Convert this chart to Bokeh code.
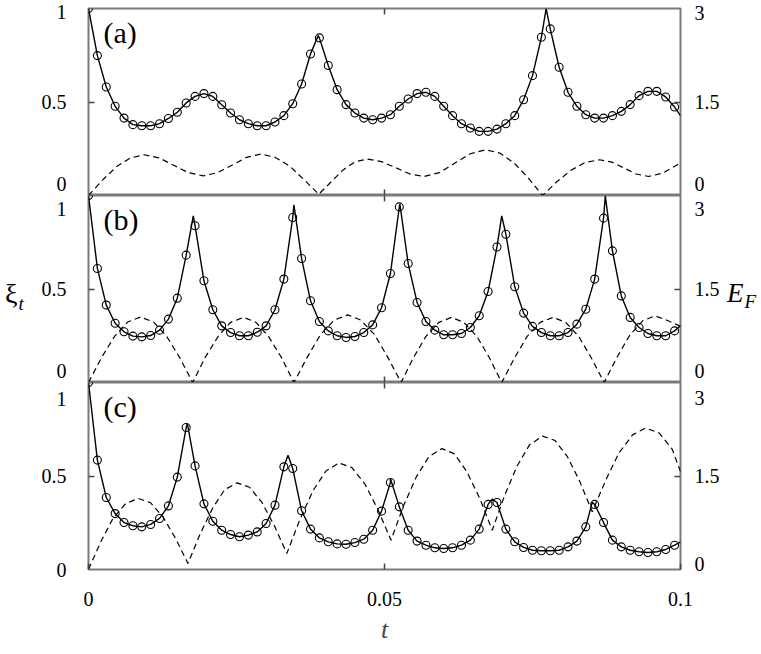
from bokeh.plotting import figure
from bokeh.models import Range1d, LinearAxis, FixedTicker, Label, Div
from bokeh.layouts import column, row
from bokeh.embed import file_html
from bokeh.resources import INLINE

SERIF = "'Times New Roman', 'Liberation Serif', serif"

# ---------------- data ----------------
# sampling times of the open circles
t_pts = [0.0, 0.0015, 0.003, 0.0045, 0.006, 0.0075, 0.009, 0.0105, 0.012, 0.0135,
         0.015, 0.0165, 0.018, 0.0195, 0.021, 0.0225, 0.024, 0.0255, 0.027, 0.0285,
         0.03, 0.0315, 0.033, 0.0345, 0.036, 0.0375, 0.039, 0.0405, 0.042, 0.0435,
         0.045, 0.0465, 0.048, 0.0495, 0.051, 0.0525, 0.054, 0.0555, 0.057, 0.0585,
         0.06, 0.0615, 0.063, 0.0645, 0.066, 0.0675, 0.069, 0.0705, 0.072, 0.0735,
         0.075, 0.0765, 0.078, 0.0795, 0.081, 0.0825, 0.084, 0.0855, 0.087, 0.0885,
         0.09, 0.0915, 0.093, 0.0945, 0.096, 0.0975, 0.099]

# xi_t values (circles), panels (a), (b), (c)
xi_a = [1.0, 0.748, 0.580, 0.477, 0.414, 0.379, 0.373, 0.373, 0.384, 0.412,
        0.445, 0.495, 0.530, 0.545, 0.530, 0.485, 0.441, 0.405, 0.384, 0.373,
        0.373, 0.393, 0.427, 0.491, 0.596, 0.757, 0.843, 0.695, 0.566, 0.486,
        0.441, 0.414, 0.405, 0.414, 0.432, 0.477, 0.516, 0.545, 0.552, 0.530,
        0.477, 0.427, 0.384, 0.361, 0.343, 0.343, 0.355, 0.384, 0.427, 0.512,
        0.641, 0.846, 0.891, 0.686, 0.552, 0.477, 0.432, 0.414, 0.414, 0.427,
        0.450, 0.486, 0.534, 0.557, 0.557, 0.527, 0.473]
xi_b = [1.0, 0.610, 0.414, 0.317, 0.271, 0.248, 0.244, 0.251, 0.280, 0.339,
        0.451, 0.681, 0.838, 0.544, 0.389, 0.303, 0.267, 0.250, 0.250, 0.269,
        0.303, 0.389, 0.553, 0.882, 0.663, 0.437, 0.326, 0.276, 0.250, 0.241,
        0.246, 0.267, 0.308, 0.400, 0.583, 0.939, 0.636, 0.428, 0.326, 0.280,
        0.255, 0.255, 0.262, 0.294, 0.357, 0.487, 0.725, 0.793, 0.512, 0.371,
        0.300, 0.267, 0.250, 0.250, 0.267, 0.312, 0.392, 0.553, 0.879, 0.704,
        0.463, 0.348, 0.294, 0.262, 0.250, 0.250, 0.276]
xi_c = [1.0, 0.585, 0.385, 0.299, 0.251, 0.234, 0.228, 0.241, 0.273, 0.340,
        0.494, 0.759, 0.554, 0.351, 0.258, 0.210, 0.187, 0.175, 0.184, 0.201,
        0.246, 0.344, 0.549, 0.540, 0.314, 0.216, 0.169, 0.148, 0.137, 0.135,
        0.144, 0.162, 0.210, 0.312, 0.465, 0.335, 0.210, 0.152, 0.130, 0.116,
        0.112, 0.116, 0.130, 0.157, 0.216, 0.348, 0.358, 0.216, 0.148, 0.118,
        0.103, 0.100, 0.100, 0.103, 0.121, 0.152, 0.228, 0.348, 0.251, 0.157,
        0.121, 0.103, 0.095, 0.091, 0.095, 0.107, 0.130]

# extra points of the solid curve (peak apexes and the end at t = 0.1)
apex_t_a = [0.0388, 0.0773, 0.1]
apex_v_a = [0.855, 1.0, 0.427]
apex_t_b = [0.0177, 0.0347, 0.0526, 0.0698, 0.0873, 0.1]
apex_v_b = [0.891, 0.950, 0.954, 0.891, 0.998, 0.303]
apex_t_c = [0.0167, 0.0337, 0.0510, 0.0682, 0.0851, 0.1]
apex_v_c = [0.780, 0.611, 0.487, 0.376, 0.360, 0.148]

# E_F (dashed, right axis)
ef_t_a = [0.0, 0.0024, 0.0047, 0.007, 0.0094, 0.0119, 0.0144, 0.0169, 0.0194,
          0.0218, 0.0243, 0.0267, 0.0291, 0.0315, 0.034, 0.0364, 0.0389,
          0.041, 0.043, 0.045, 0.0471, 0.0495, 0.0519, 0.0543, 0.0567,
          0.0593, 0.0619, 0.0645, 0.0671, 0.0695, 0.0719, 0.0743, 0.0767,
          0.0791, 0.0815, 0.0839, 0.0863, 0.0884, 0.0905, 0.0925, 0.0946, 0.097, 0.1]
ef_v_a = [0.0, 0.25, 0.46, 0.60, 0.654, 0.605, 0.485, 0.365, 0.316,
          0.367, 0.49, 0.613, 0.664, 0.614, 0.47, 0.254, 0.02,
          0.22, 0.41, 0.54, 0.584, 0.544, 0.445, 0.345, 0.305,
          0.368, 0.52, 0.67, 0.734, 0.68, 0.52, 0.28, 0.0,
          0.22, 0.405, 0.53, 0.573, 0.535, 0.44, 0.345, 0.305, 0.36, 0.52]
ef_t_b = [0.0, 0.0022, 0.0044, 0.0066, 0.0088, 0.011, 0.0132, 0.0154, 0.0176,
          0.0197, 0.0219, 0.024, 0.0262, 0.0283, 0.0304, 0.0326, 0.0347,
          0.037, 0.0392, 0.0415, 0.0438, 0.046, 0.0483, 0.0505, 0.0528,
          0.0549, 0.057, 0.0592, 0.0613, 0.0634, 0.0656, 0.0677, 0.0698,
          0.072, 0.0741, 0.0763, 0.0785, 0.0806, 0.0828, 0.0849, 0.0871,
          0.0893, 0.0914, 0.0936, 0.0957, 0.0979, 0.1]
ef_v_b = [0.0, 0.40, 0.74, 0.97, 1.05, 0.97, 0.74, 0.40, 0.0,
          0.40, 0.74, 0.965, 1.045, 0.965, 0.74, 0.40, 0.0,
          0.415, 0.77, 1.0, 1.085, 1.0, 0.77, 0.415, 0.0,
          0.40, 0.74, 0.965, 1.045, 0.965, 0.74, 0.40, 0.0,
          0.40, 0.74, 0.965, 1.045, 0.965, 0.74, 0.40, 0.0,
          0.41, 0.755, 0.99, 1.07, 0.99, 0.90]
ef_t_c = [0.0, 0.0021, 0.0042, 0.0063, 0.0084, 0.0105, 0.0126, 0.0147, 0.0168,
          0.0189, 0.021, 0.023, 0.0251, 0.0272, 0.0293, 0.0314, 0.0335,
          0.0357, 0.0379, 0.0401, 0.0423, 0.0445, 0.0467, 0.0489, 0.0511,
          0.0532, 0.0554, 0.0575, 0.0597, 0.0618, 0.0639, 0.0661, 0.0682,
          0.0703, 0.0724, 0.0745, 0.0767, 0.0788, 0.0809, 0.083, 0.0851,
          0.0874, 0.0896, 0.0919, 0.0941, 0.0964, 0.0986, 0.1]
ef_v_c = [0.0, 0.45, 0.83, 1.06, 1.14, 1.07, 0.84, 0.50, 0.096,
          0.58, 0.99, 1.28, 1.39, 1.32, 1.075, 0.70, 0.257,
          0.80, 1.26, 1.58, 1.71, 1.634, 1.37, 0.96, 0.47,
          1.02, 1.49, 1.81, 1.94, 1.855, 1.57, 1.14, 0.63,
          1.19, 1.66, 2.0, 2.14, 2.07, 1.81, 1.41, 0.925,
          1.44, 1.87, 2.16, 2.27, 2.19, 1.93, 1.57]

panel_tags = ["(a)", "(b)", "(c)"]
x_ticks = [0, 0.05, 0.1]
x_tick_labels = ["0", "0.05", "0.1"]
left_ticks = [0, 0.5, 1]
left_tick_labels = ["0", "0.5", "1"]
right_ticks = [0, 1.5, 3]
right_tick_labels = ["0", "1.5", "3"]

# ---------------- styling ----------------
FRAME_W, FRAME_H = 592, 187
FRAME_COL = "#7a7a7a"
TICK_COL = "#444444"
LEFT_W, RIGHT_W = 24, 33          # side strips holding the axis names
BORDER_L, BORDER_R = 54, 42
# inward nudges (px) of the end tick labels, per panel:
# (left 0 up, left 1 down, right 0 up, right 3 down)
nudges = [(12, 3, 12, 4), (12, 13, 12, 13), (0, 16, 6, 15)]


def merged(ts, vs, ets, evs):
    pts = sorted(zip(list(ts) + list(ets), list(vs) + list(evs)))
    return [a for a, _ in pts], [b for _, b in pts]


def style_axis(ax, tick_in=6, size="20px"):
    ax.axis_line_color = None
    ax.major_tick_in = tick_in
    ax.major_tick_out = 0
    ax.major_tick_line_color = TICK_COL
    ax.major_tick_line_width = 1.5
    ax.minor_tick_line_color = None
    ax.major_label_text_font = SERIF
    ax.major_label_text_font_size = size
    ax.major_label_text_color = "black"


def tick_marks(p, side, loc, ticks, range_name=None):
    """Inward tick marks only (drawn on the frame edge)."""
    kw = {"y_range_name": range_name} if range_name else {}
    ax = LinearAxis(ticker=FixedTicker(ticks=list(ticks)), fixed_location=loc, **kw)
    style_axis(ax)
    ax.major_label_overrides = {t: "" for t in ticks}
    ax.major_label_standoff = 0
    p.add_layout(ax, side)


def label_axis(p, side, ys, texts, standoff):
    """Side axis carrying the tick labels only (no marks)."""
    ax = LinearAxis(ticker=FixedTicker(ticks=list(ys)))
    style_axis(ax, tick_in=0)
    ax.major_tick_line_color = None
    ax.major_label_overrides = dict(zip(ys, texts))
    ax.major_label_standoff = standoff
    p.add_layout(ax, side)


def make_panel(idx, xi, apex_t, apex_v, ef_t, ef_v):
    last = idx == 2
    p = figure(frame_width=FRAME_W, frame_height=FRAME_H,
               x_range=Range1d(x_ticks[0], x_ticks[-1]),
               y_range=Range1d(left_ticks[0], left_ticks[-1]),
               x_axis_location=None, y_axis_location=None,
               toolbar_location=None, output_backend="svg",
               min_border_left=BORDER_L, min_border_right=BORDER_R,
               min_border_top=8 if idx == 0 else 0,
               min_border_bottom=0,
               background_fill_color="white", border_fill_color="white")
    p.extra_y_ranges = {"ef": Range1d(right_ticks[0], right_ticks[-1])}
    p.grid.visible = False
    p.outline_line_color = FRAME_COL
    p.outline_line_width = 2

    n0, n1, r0, r3 = nudges[idx]
    # tick labels: end labels nudged inwards as in the original
    label_axis(p, "left",
               [left_ticks[0] + n0 / FRAME_H, left_ticks[1], left_ticks[-1] - n1 / FRAME_H],
               left_tick_labels, 22)
    label_axis(p, "right",
               [left_ticks[0] + r0 / FRAME_H, left_ticks[1], left_ticks[-1] - r3 / FRAME_H],
               right_tick_labels, 14)
    # inward tick marks
    tick_marks(p, "left", x_ticks[0], [left_ticks[1]])
    tick_marks(p, "right", x_ticks[-1], [right_ticks[1]], "ef")
    tick_marks(p, "above", left_ticks[-1], [x_ticks[1]])

    if last:
        ba = LinearAxis(ticker=FixedTicker(ticks=x_ticks))
        style_axis(ba)
        ba.major_label_overrides = dict(zip(x_ticks, x_tick_labels))
        ba.major_label_standoff = 22
        ba.axis_label = "t"
        ba.axis_label_text_font = SERIF
        ba.axis_label_text_font_style = "italic"
        ba.axis_label_text_font_size = "26px"
        ba.axis_label_standoff = 6
        p.add_layout(ba, "below")
    else:
        tick_marks(p, "below", left_ticks[0], [x_ticks[1]])

    # curves
    p.line(ef_t, ef_v, y_range_name="ef", line_color="black", line_width=1.2,
           line_dash="6 4")
    lt, lv = merged(t_pts, xi, apex_t, apex_v)
    p.line(lt, lv, line_color="black", line_width=1.4)
    p.scatter(t_pts, xi, marker="circle", size=8, fill_color=None,
              line_color="black", line_width=1.1)

    p.add_layout(Label(x=x_ticks[0], y=left_ticks[-1], x_offset=15, y_offset=-24,
                       text=panel_tags[idx], text_align="left", text_baseline="middle",
                       text_font=SERIF, text_font_size="30px", text_color="black"))
    return p


pa = make_panel(0, xi_a, apex_t_a, apex_v_a, ef_t_a, ef_v_a)
pb = make_panel(1, xi_b, apex_t_b, apex_v_b, ef_t_b, ef_v_b)
pc = make_panel(2, xi_c, apex_t_c, apex_v_c, ef_t_c, ef_v_c)

css_font = "font-family:'Times New Roman','Liberation Serif',serif;"
left_name = Div(
    text=("<div style=\"padding-top:272px;" + css_font +
          "font-size:28px;line-height:34px;white-space:nowrap;color:black\">ξ"
          "<span style=\"font-style:italic;font-size:19px;position:relative;"
          "top:7px;margin-left:1px\">t</span></div>"),
    width=LEFT_W, height=330)
right_name = Div(
    text=("<div style=\"padding-top:271px;" + css_font +
          "font-size:27px;line-height:34px;font-style:italic;white-space:nowrap;"
          "color:black\">E<span style=\"font-size:19px;position:relative;"
          "top:6px;margin-left:1px\">F</span></div>"),
    width=RIGHT_W, height=330)

layout = row(left_name, column(pa, pb, pc, spacing=0), right_name, spacing=0)
open("out.html", "w").write(file_html(layout, INLINE))
